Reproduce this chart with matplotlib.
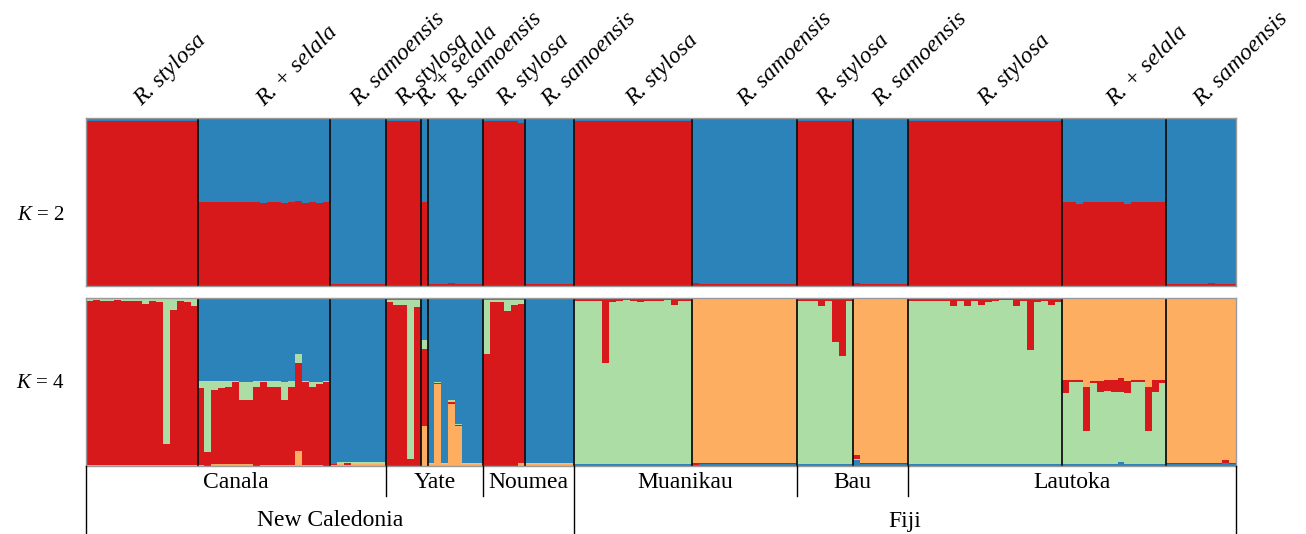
#!/usr/bin/env python3
"""STRUCTURE bar plot (K = 2 and K = 4) for Rhizophora samples, New Caledonia and Fiji."""

import numpy as np
import matplotlib.pyplot as plt

plt.rcParams["font.family"] = ["Liberation Serif", "DejaVu Serif"]
plt.rcParams["mathtext.fontset"] = "custom"
plt.rcParams["mathtext.rm"] = "Liberation Serif"
plt.rcParams["mathtext.it"] = "Liberation Serif:italic"

RED, ORANGE, GREEN, BLUE = "#d7191c", "#fdae61", "#abdda4", "#2b83ba"

# groups of individuals, left to right
group_labels = ["R. stylosa", "R. + selala", "R. samoensis",
                "R. stylosa", "R. + selala", "R. samoensis",
                "R. stylosa", "R. samoensis",
                "R. stylosa", "R. samoensis",
                "R. stylosa", "R. samoensis",
                "R. stylosa", "R. + selala", "R. samoensis"]
group_sizes = [16, 19, 8, 5, 1, 8, 6, 7, 17, 15, 8, 8, 22, 15, 10]
group_region = ["NC"] * 8 + ["FJ"] * 7

sites = ["Canala", "Yate", "Noumea", "Muanikau", "Bau", "Lautoka"]
site_ngroups = [3, 3, 2, 2, 2, 3]
regions = ["New Caledonia", "Fiji"]
region_nsites = [3, 3]

# K = 2: membership in the red cluster (blue is the rest)
k2_red = (
    [0.982] * 16
    + [0.502, 0.502, 0.502, 0.502, 0.502, 0.502, 0.502, 0.502, 0.502, 0.494,
       0.502, 0.502, 0.494, 0.502, 0.506, 0.494, 0.502, 0.494, 0.502]
    + [0.012] * 8
    + [0.982] * 5
    + [0.502]
    + [0.012, 0.012, 0.012, 0.018, 0.012, 0.012, 0.012, 0.012]
    + [0.982, 0.982, 0.982, 0.982, 0.982, 0.970]
    + [0.012] * 7
    + [0.982] * 17
    + [0.018] + [0.012] * 14
    + [0.982] * 8
    + [0.018] + [0.012] * 7
    + [0.982] * 22
    + [0.502, 0.502, 0.490, 0.502, 0.502, 0.502, 0.502, 0.502, 0.502, 0.490,
       0.502, 0.502, 0.502, 0.502, 0.502]
    + [0.012, 0.012, 0.012, 0.012, 0.012, 0.012, 0.018, 0.012, 0.012, 0.012]
)

# K = 4 memberships
k4_red = (
    [0.976, 0.982, 0.976, 0.976, 0.982, 0.976, 0.976, 0.976, 0.958, 0.976,
     0.970, 0.124, 0.922, 0.976, 0.970, 0.946]
    + [0.460, 0.082, 0.444, 0.456, 0.462, 0.492, 0.384, 0.384, 0.472, 0.496,
       0.466, 0.466, 0.388, 0.466, 0.528, 0.496, 0.466, 0.484, 0.502]
    + [0.010, 0.004, 0.010, 0.004, 0.004, 0.004, 0.004, 0.004]
    + [0.976, 0.958, 0.958, 0.040, 0.946]
    + [0.454]
    + [0.004, 0.008, 0.004, 0.012, 0.006, 0.004, 0.004, 0.004]
    + [0.664, 0.976, 0.976, 0.922, 0.958, 0.950]
    + [0.002] * 7
    + [0.016, 0.016, 0.016, 0.016, 0.384, 0.024, 0.016, 0.012, 0.016, 0.024,
       0.016, 0.016, 0.016, 0.012, 0.042, 0.016, 0.016]
    + [0.014] + [0.006] * 14
    + [0.016, 0.016, 0.016, 0.048, 0.016, 0.264, 0.348, 0.016]
    + [0.024] + [0.004] * 7
    + [0.016, 0.016, 0.016, 0.016, 0.016, 0.016, 0.048, 0.016, 0.048, 0.016,
       0.042, 0.024, 0.016, 0.012, 0.012, 0.048, 0.016, 0.312, 0.024, 0.018,
       0.042, 0.024]
    + [0.078, 0.012, 0.012, 0.262, 0.012, 0.066, 0.066, 0.072, 0.084, 0.072,
       0.012, 0.012, 0.262, 0.072, 0.018]
    + [0.006] * 8 + [0.014, 0.006]
)
k4_orange = (
    [0.004] * 16
    + [0.006, 0.000, 0.010, 0.010, 0.010, 0.010, 0.010, 0.010, 0.000, 0.006,
       0.006, 0.006, 0.006, 0.006, 0.088, 0.006, 0.006, 0.006, 0.000]
    + [0.004, 0.010, 0.008, 0.010, 0.010, 0.010, 0.010, 0.010]
    + [0.0] * 5
    + [0.240]
    + [0.010, 0.486, 0.010, 0.370, 0.240, 0.010, 0.010, 0.010]
    + [0.0, 0.0, 0.0, 0.0, 0.0, 0.016]
    + [0.010] * 7
    + [0.0] * 17
    + [0.980] + [0.982] * 14
    + [0.0] * 8
    + [0.936] + [0.984] * 7
    + [0.0] * 22
    + [0.486, 0.486, 0.486, 0.528, 0.492, 0.492, 0.486, 0.486, 0.474, 0.492,
       0.486, 0.486, 0.528, 0.486, 0.486]
    + [0.982] * 8 + [0.966, 0.982]
)
k4_green = (
    [0.020, 0.014, 0.020, 0.020, 0.014, 0.020, 0.020, 0.020, 0.038, 0.020,
     0.026, 0.872, 0.074, 0.020, 0.026, 0.050]
    + [0.042, 0.426, 0.054, 0.042, 0.036, 0.006, 0.108, 0.108, 0.036, 0.006,
       0.036, 0.036, 0.108, 0.036, 0.048, 0.006, 0.030, 0.012, 0.006]
    + [0.000, 0.008, 0.004, 0.008, 0.008, 0.008, 0.008, 0.008]
    + [0.012, 0.030, 0.030, 0.948, 0.042]
    + [0.056]
    + [0.006, 0.004, 0.006, 0.012, 0.004, 0.006, 0.006, 0.006]
    + [0.324, 0.012, 0.012, 0.066, 0.030, 0.022]
    + [0.008] * 7
    + [0.972, 0.972, 0.972, 0.972, 0.604, 0.964, 0.972, 0.976, 0.972, 0.964,
       0.972, 0.972, 0.972, 0.976, 0.946, 0.972, 0.972]
    + [0.0] * 15
    + [0.972, 0.972, 0.972, 0.940, 0.972, 0.724, 0.640, 0.972]
    + [0.004] + [0.0] * 7
    + [0.972, 0.972, 0.972, 0.972, 0.972, 0.972, 0.940, 0.972, 0.940, 0.972,
       0.946, 0.964, 0.972, 0.976, 0.976, 0.940, 0.972, 0.676, 0.964, 0.970,
       0.946, 0.964]
    + [0.426, 0.492, 0.492, 0.200, 0.486, 0.432, 0.438, 0.432, 0.420, 0.426,
       0.492, 0.492, 0.200, 0.432, 0.486]
    + [0.0] * 10
)
k4_blue = (
    [0.0] * 16
    + [0.492, 0.492, 0.492, 0.492, 0.492, 0.492, 0.498, 0.498, 0.492, 0.492,
       0.492, 0.492, 0.498, 0.492, 0.336, 0.492, 0.498, 0.498, 0.492]
    + [0.986, 0.978, 0.978, 0.978, 0.978, 0.978, 0.978, 0.978]
    + [0.012] * 5
    + [0.250]
    + [0.980, 0.502, 0.980, 0.606, 0.750, 0.980, 0.980, 0.980]
    + [0.012] * 6
    + [0.980] * 7
    + [0.012] * 17
    + [0.006] + [0.012] * 14
    + [0.012] * 8
    + [0.036] + [0.012] * 7
    + [0.012] * 22
    + [0.010] * 8 + [0.022] + [0.010] * 6
    + [0.012] * 8 + [0.020, 0.012]
)

COLORS = {"red": RED, "orange": ORANGE, "green": GREEN, "blue": BLUE}
# stacking order (bottom to top) differs between the two regions
ORDER_K2 = {"NC": ["red", "blue"], "FJ": ["red", "blue"]}
ORDER_K4 = {"NC": ["orange", "red", "green", "blue"],
            "FJ": ["blue", "green", "red", "orange"]}


def normalise(series):
    total = sum(np.asarray(v, dtype=float) for v in series.values())
    return {k: np.asarray(v, dtype=float) / total for k, v in series.items()}


def draw_panel(ax, series, orders):
    n = sum(group_sizes)
    x = np.arange(n)
    start = 0
    for size, reg in zip(group_sizes, group_region):
        sl = slice(start, start + size)
        bottom = np.zeros(size)
        for name in orders[reg]:
            vals = series[name][sl]
            ax.bar(x[sl], vals, bottom=bottom, width=1.0, align="edge",
                   color=COLORS[name], linewidth=0, antialiased=False)
            bottom += vals
        start += size

    bounds = np.cumsum([0] + group_sizes)
    for b in bounds[:-1]:
        ax.axvline(b, color="#111111", linewidth=1.3)
    ax.set_xlim(0, n)
    ax.set_ylim(0, 1)
    ax.set_xticks([])
    ax.set_yticks([])
    for s in ax.spines.values():
        s.set_color("#9a9a9a")
        s.set_linewidth(1.0)


def main():
    W, H = 1306, 534
    fig = plt.figure(figsize=(W / 100, H / 100), dpi=100)
    left, right = 86, 1236
    n = sum(group_sizes)

    def axes_px(top, bottom):
        return fig.add_axes([left / W, 1 - bottom / H, (right - left) / W,
                             (bottom - top) / H])

    ax2 = axes_px(118, 286)
    ax4 = axes_px(298, 466)

    k2 = normalise({"red": k2_red, "blue": 1 - np.asarray(k2_red)})
    k4 = normalise({"red": k4_red, "orange": k4_orange,
                    "green": k4_green, "blue": k4_blue})
    draw_panel(ax2, k2, ORDER_K2)
    draw_panel(ax4, k4, ORDER_K4)

    # species names above the top panel
    bounds = np.cumsum([0] + group_sizes)
    centres = (bounds[:-1] + bounds[1:]) / 2
    for c, lab in zip(centres, group_labels):
        ax2.annotate(lab, xy=(c, 1), xycoords=("data", "axes fraction"),
                     xytext=(0, 8), textcoords="offset points",
                     rotation=45, rotation_mode="anchor",
                     ha="left", va="baseline", fontsize=17, style="italic")

    fig.text(65 / W, 1 - 215 / H, "$K$ = 2", ha="right", va="center", fontsize=15)
    fig.text(65 / W, 1 - 383 / H, "$K$ = 4", ha="right", va="center", fontsize=15)

    # site / region table below the bottom panel (y in pixels up from the image bottom)
    tab = fig.add_axes([left / W, 0, (right - left) / W, 68 / H])
    tab.set_xlim(0, n)
    tab.set_ylim(0, 68)
    tab.axis("off")

    site_bounds = np.cumsum([0] + site_ngroups)
    site_x = bounds[site_bounds]
    region_bounds = np.cumsum([0] + region_nsites)
    region_x = site_x[region_bounds]

    for xb in site_x:
        if xb in region_x:
            tab.plot([xb, xb], [0, 68], color="black", lw=1.0, clip_on=False)
        else:
            tab.plot([xb, xb], [38, 68], color="black", lw=1.0, clip_on=False)
    for i, name in enumerate(sites):
        tab.text((site_x[i] + site_x[i + 1]) / 2, 52, name,
                 ha="center", va="center", fontsize=17)
    for i, name in enumerate(regions):
        tab.text((region_x[i] + region_x[i + 1]) / 2, 13, name,
                 ha="center", va="center", fontsize=17)

    fig.savefig("out.png", dpi=100)


if __name__ == "__main__":
    main()
